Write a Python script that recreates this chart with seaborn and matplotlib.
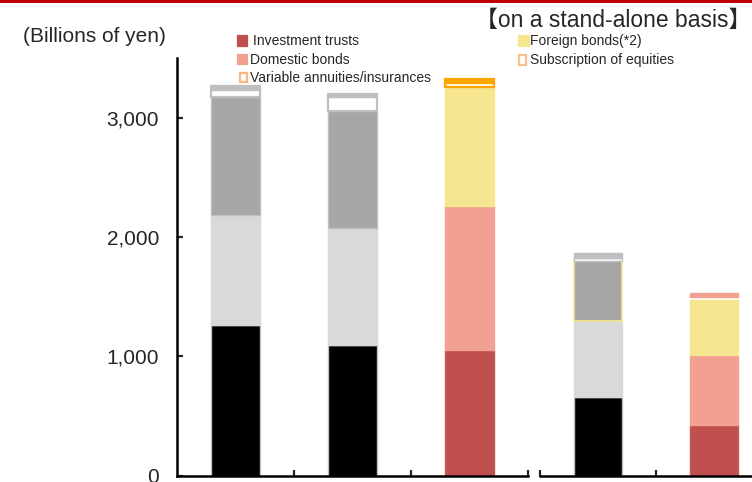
import matplotlib
matplotlib.use("Agg")
import matplotlib.pyplot as plt
import seaborn as sns
import pandas as pd
import numpy as np
from matplotlib.patches import Rectangle

# ---- data (billions of yen) ----
left_periods = ["P1", "P2", "P3"]
right_periods = ["P4", "P5"]
segments = ["Investment trusts", "Domestic bonds", "Foreign bonds(*2)",
            "Subscription of equities", "Variable annuities/insurances"]
investment_trusts = [1265, 1097, 1050, 662, 424]
domestic_bonds = [916, 974, 1209, 630, 589]
foreign_bonds = [991, 982, 997, 505, 470]
subscription_equities = [58, 119, 32, 25, 17]
variable_annuities = [35, 25, 38, 45, 31]
y_ticks = [0, 1000, 2000, 3000]
y_tick_labels = ["0", "1,000", "2,000", "3,000"]

# ---- styles ----
GREY_FACE = ["#000000", "#d9d9d9", "#a6a6a6", "#ffffff", "#bfbfbf"]
GREY_EDGE = ["#bfbfbf", "#d9d9d9", "#bfbfbf", "#bfbfbf", "#bfbfbf"]
COL_FACE = ["#c0504d", "#f2a091", "#f5e68f", "#ffffff", "#ffa500"]
COL_EDGE = ["#c85a57", "#f2a091", "#f5e68f", "#ffa500", "#ffa500"]

bar_faces = [GREY_FACE, GREY_FACE, COL_FACE, GREY_FACE,
             COL_FACE[:4] + ["#f4a090"]]
bar_edges = [GREY_EDGE, GREY_EDGE, COL_EDGE,
             GREY_EDGE[:2] + ["#f5e68f"] + GREY_EDGE[3:],
             COL_EDGE[:3] + ["#ffffff", "#f4a090"]]
bar_lws = [[1.0, 1.0, 1.0, 1.6, 1.6],
           [1.0, 1.0, 1.0, 1.6, 1.6],
           [1.0, 1.0, 1.0, 1.6, 1.6],
           [1.0, 1.0, 1.2, 1.0, 1.0],
           [1.0, 1.0, 1.0, 0.5, 1.0]]

sns.set_style("white")
plt.rcParams["font.family"] = ["Liberation Sans", "DejaVu Sans"]

W, H = 752, 482
fig = plt.figure(figsize=(W / 100, H / 100), dpi=100)


def fx(x):
    return x / W


def fy(y):
    return 1 - y / H


ax1 = fig.add_axes([fx(177), fy(475.5), (528 - 177) / W, (475.5 - 58) / H])
ax2 = fig.add_axes([fx(540), fy(475.5), (772 - 540) / W, (475.5 - 58) / H])

values = np.array([investment_trusts, domestic_bonds, foreign_bonds,
                   subscription_equities, variable_annuities], dtype=float)
bottoms = np.vstack([np.zeros(values.shape[1]), np.cumsum(values, axis=0)[:-1]])

groups = [(ax1, left_periods, slice(0, 3)), (ax2, right_periods, slice(3, 5))]
for ax, periods, sl in groups:
    idx = list(range(sl.start, sl.stop))
    for k, seg in enumerate(segments):
        df = pd.DataFrame({"period": periods, "value": values[k, sl]})
        n_before = len(ax.patches)
        sns.barplot(data=df, x="period", y="value", order=periods, ax=ax,
                    width=0.42, errorbar=None, color="gray", saturation=1,
                    bottom=bottoms[k, sl])
        for p, i in zip(ax.patches[n_before:], idx):
            p.set_facecolor(bar_faces[i][k])
            p.set_edgecolor(bar_edges[i][k])
            p.set_linewidth(bar_lws[i][k])

for ax, n in [(ax1, 3), (ax2, 2)]:
    ax.set_xlim(-0.5, n - 0.5)
    ax.set_ylim(0, 3500)
    ax.set_xlabel("")
    ax.set_ylabel("")
    for s in ["top", "right"]:
        ax.spines[s].set_visible(False)
    ax.spines["bottom"].set_linewidth(1.8)
    ax.spines["bottom"].set_color("black")
    ax.tick_params(axis="x", direction="in", length=4, width=1.6,
                   labelbottom=False, bottom=True)

ax1.set_xticks([0.5, 1.5, 2.5])
ax2.set_xticks([-0.5, 0.5, 1.5])
ax1.spines["left"].set_linewidth(1.8)
ax1.spines["left"].set_color("black")
ax1.set_yticks(y_ticks)
ax1.set_yticklabels(y_tick_labels)
ax1.tick_params(axis="y", direction="in", length=4, width=1.6, pad=13,
                labelsize=15, left=True)
ax2.spines["left"].set_visible(False)
ax2.set_yticks([])

# top rule
fig.patches.append(Rectangle((0, fy(3)), 1, 3 / H, transform=fig.transFigure,
                             facecolor="#c00000", edgecolor="none"))

fig.text(fx(166), fy(36), "(Billions of yen)", ha="right", va="center",
         fontsize=15)
fig.text(fx(751), fy(20), "【on a stand-alone basis】", ha="right",
         va="center", fontsize=16.5,
         family=["Liberation Sans", "Noto Sans CJK JP", "DejaVu Sans"])

# legend: (swatch x, row centre y, swatch width, text x, label, face, edge)
legend_items = [
    (238, 41, 9, 253, segments[0], "#c0504d", "#c0504d"),
    (238, 59.5, 9, 250, segments[1], "#f2a091", "#f2a091"),
    (240, 77.5, 7, 250, segments[4], "#ffffff", "#fab880"),
    (519, 41, 10, 530, segments[2], "#f5e68f", "#f5e68f"),
    (519, 60, 7, 530, segments[3], "#ffffff", "#fac090"),
]
for sx, cy, sw, tx, label, fc, ec in legend_items:
    fig.patches.append(Rectangle((fx(sx), fy(cy + 4.5)), sw / W, 9 / H,
                                 transform=fig.transFigure, facecolor=fc,
                                 edgecolor=ec, linewidth=1.6))
    fig.text(fx(tx), fy(cy), label, ha="left", va="center", fontsize=10)

fig.savefig("out.png", dpi=100)
